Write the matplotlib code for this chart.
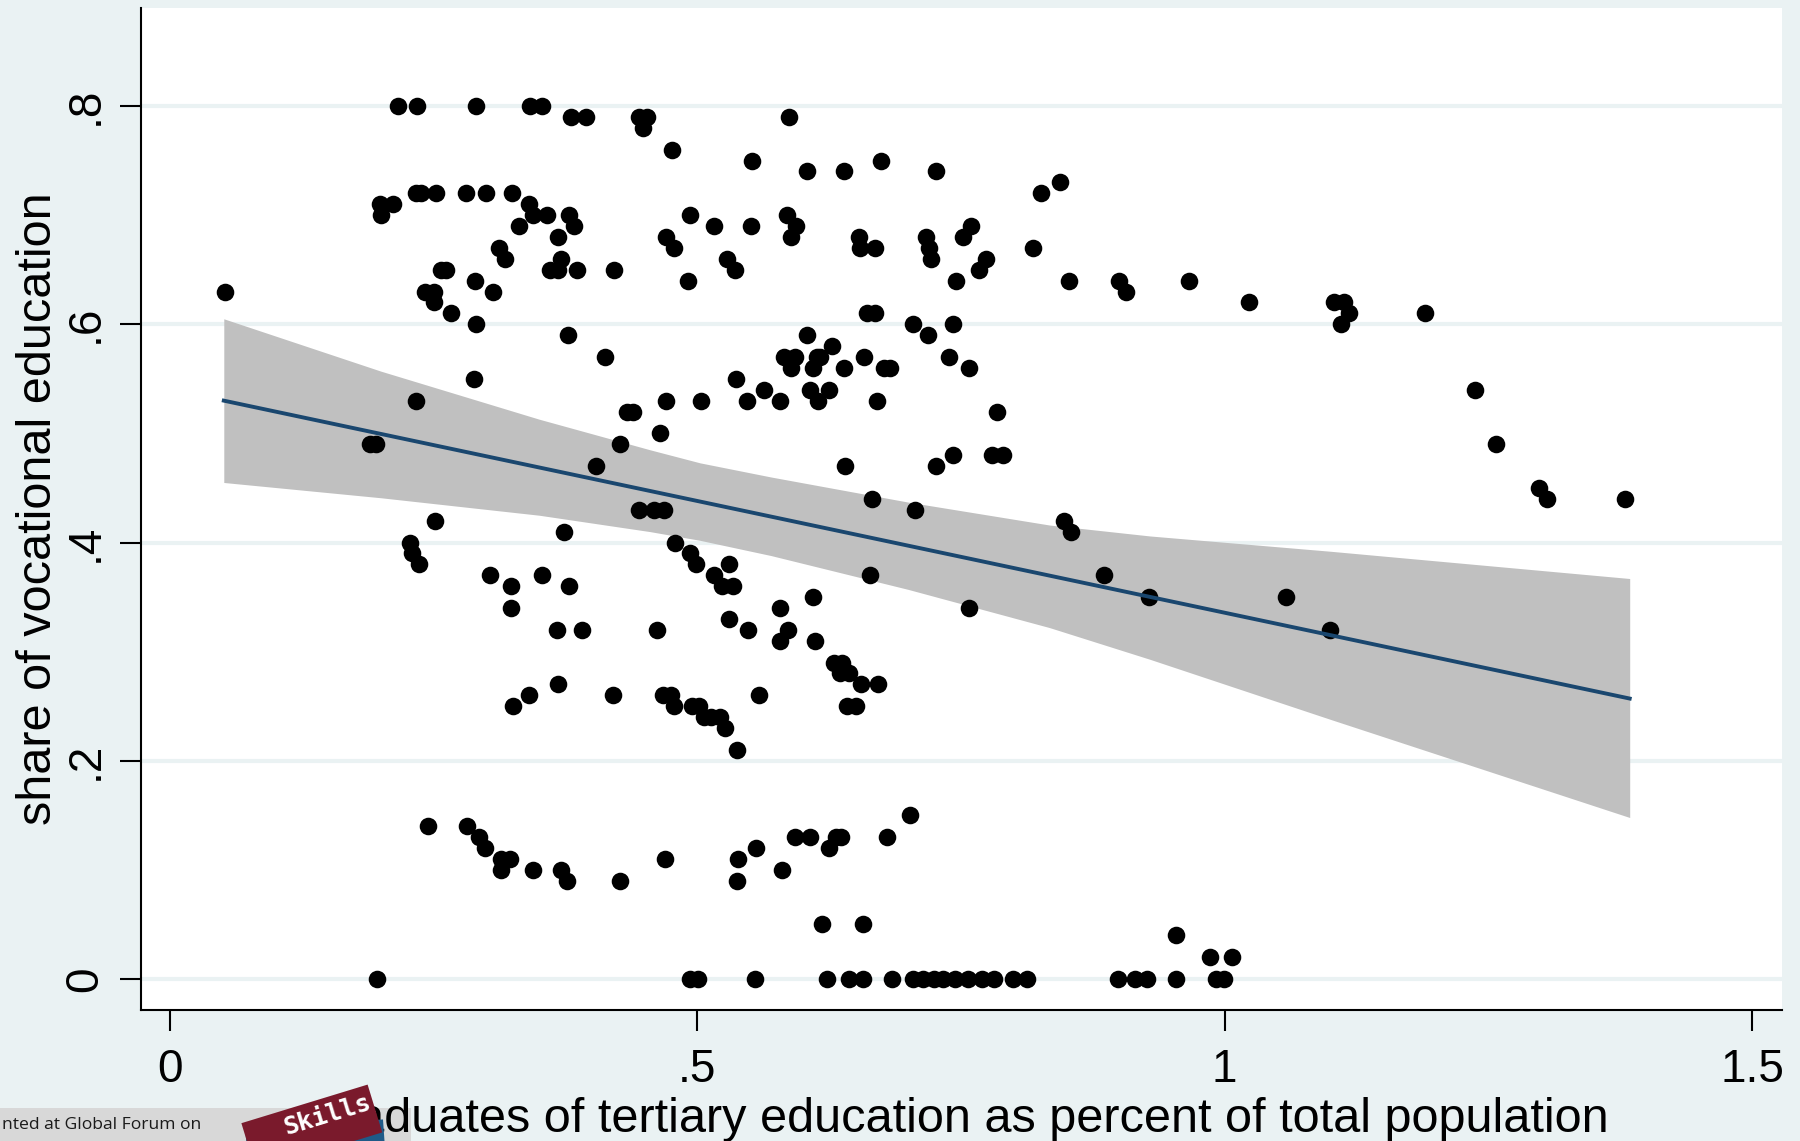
import numpy as np
import matplotlib
matplotlib.use("Agg")
import matplotlib.pyplot as plt
from matplotlib.patches import Rectangle
import matplotlib.transforms as mtransforms

plt.rcParams['font.family'] = ['Liberation Sans', 'DejaVu Sans']

# ---- data: (share of tertiary graduates, share of vocational education) ----
pts = {
    0.80: [0.216, 0.234, 0.290, 0.341, 0.353],
    0.79: [0.380, 0.394, 0.445, 0.452, 0.587],
    0.78: [0.448],
    0.76: [0.476],
    0.75: [0.552, 0.674],
    0.74: [0.604, 0.639, 0.726],
    0.73: [0.844],
    0.72: [0.233, 0.238, 0.252, 0.281, 0.300, 0.324, 0.826],
    0.71: [0.199, 0.211, 0.340],
    0.70: [0.200, 0.344, 0.357, 0.378, 0.493, 0.585],
    0.69: [0.383, 0.331, 0.516, 0.551, 0.594, 0.759],
    0.68: [0.368, 0.470, 0.589, 0.653, 0.717, 0.752],
    0.67: [0.478, 0.312, 0.654, 0.668, 0.720, 0.818],
    0.66: [0.318, 0.371, 0.528, 0.722, 0.774],
    0.65: [0.257, 0.262, 0.360, 0.368, 0.386, 0.421, 0.536, 0.767],
    0.64: [0.491, 0.289, 0.745, 0.852, 0.900, 0.966],
    0.63: [0.306, 0.242, 0.250, 0.052, 0.906],
    0.62: [0.250, 1.023, 1.104, 1.113],
    0.61: [0.266, 0.661, 0.668, 1.118, 1.190],
    0.60: [0.290, 0.704, 0.742, 1.110],
    0.59: [0.377, 0.604, 0.719],
    0.58: [0.628],
    0.57: [0.412, 0.582, 0.593, 0.613, 0.616, 0.658, 0.739],
    0.56: [0.589, 0.610, 0.639, 0.677, 0.683, 0.758],
    0.55: [0.288, 0.537],
    0.54: [0.563, 0.607, 0.625, 1.237],
    0.53: [0.233, 0.470, 0.503, 0.547, 0.578, 0.614, 0.670],
    0.52: [0.433, 0.439, 0.784],
    0.50: [0.465],
    0.49: [0.427, 0.190, 0.195, 1.257],
    0.48: [0.742, 0.779, 0.790],
    0.47: [0.404, 0.640, 0.726],
    0.45: [1.298],
    0.44: [1.306, 1.380, 0.666],
    0.43: [0.445, 0.459, 0.468, 0.706],
    0.42: [0.251, 0.848],
    0.41: [0.374, 0.854],
    0.40: [0.228, 0.479],
    0.39: [0.229, 0.493],
    0.38: [0.236, 0.499, 0.530],
    0.37: [0.303, 0.353, 0.516, 0.664, 0.886],
    0.36: [0.323, 0.378, 0.523, 0.534],
    0.35: [0.610, 0.928, 1.058],
    0.34: [0.323, 0.578, 0.758],
    0.33: [0.530],
    0.32: [0.367, 0.391, 0.462, 0.548, 0.586, 1.100],
    0.31: [0.578, 0.612],
    0.29: [0.630, 0.637],
    0.28: [0.635, 0.644],
    0.27: [0.368, 0.655, 0.671],
    0.26: [0.340, 0.420, 0.467, 0.475, 0.558],
    0.25: [0.325, 0.478, 0.495, 0.502, 0.642, 0.650],
    0.24: [0.506, 0.513, 0.521],
    0.23: [0.526],
    0.21: [0.538],
    0.15: [0.702],
    0.14: [0.245, 0.282],
    0.13: [0.293, 0.593, 0.607, 0.631, 0.636, 0.680],
    0.12: [0.299, 0.625, 0.556],
    0.11: [0.314, 0.322, 0.469, 0.539],
    0.10: [0.314, 0.344, 0.371, 0.580],
    0.09: [0.376, 0.427, 0.538],
    0.05: [0.618, 0.657],
    0.04: [0.954],
    0.02: [0.986, 1.007],
    0.00: [0.196, 0.493, 0.501, 0.555, 0.623, 0.644, 0.657, 0.685, 0.704,
           0.714, 0.724, 0.733, 0.744, 0.757, 0.770, 0.781, 0.799, 0.813,
           0.899, 0.915, 0.926, 0.954, 0.992, 0.999],
}
tertiary = np.array([x for yv, xs in pts.items() for x in xs])
vocational = np.array([yv for yv, xs in pts.items() for x in xs])

# fitted line and 95% confidence band
fit_x = [0.051, 1.384]
fit_y = [0.530, 0.257]
ci_x = [0.051, 0.20, 0.35, 0.455, 0.5025, 0.57, 0.70, 0.834, 0.929, 1.10, 1.384]
ci_hi = [0.605, 0.557, 0.513, 0.485, 0.473, 0.460, 0.437, 0.416, 0.406, 0.392, 0.367]
ci_lo = [0.455, 0.441, 0.425, 0.410, 0.402, 0.388, 0.357, 0.322, 0.293, 0.238, 0.148]

xticks = [0, 0.5, 1, 1.5]
xticklabels = ['0', '.5', '1', '1.5']
yticks = [0, 0.2, 0.4, 0.6, 0.8]
yticklabels = ['0', '.2', '.4', '.6', '.8']

# ---- figure ----
W, H = 1800, 1141
bg = '#EAF2F3'
fig = plt.figure(figsize=(W / 100, H / 100), dpi=100, facecolor=bg)
L, R, T, B = 141, 1782, 8, 1010
ax = fig.add_axes([L / W, 1 - B / H, (R - L) / W, (B - T) / H])
ax.set_facecolor('white')

ax.fill_between(ci_x, ci_lo, ci_hi, color='#C0C0C0', lw=0, zorder=2)
ax.scatter(tertiary, vocational, s=160, color='black', lw=0, zorder=3)
ax.plot(fit_x, fit_y, color='#1A476F', lw=2.8, zorder=4)

ax.set_xlim(-0.0275, 1.5284)
ax.set_ylim(-0.0284, 0.8898)
ax.set_xticks(xticks)
ax.set_xticklabels(xticklabels)
ax.set_yticks(yticks)
ax.set_yticklabels(yticklabels, rotation=90, va='center')
ax.yaxis.grid(True, color=bg, lw=3, zorder=1)
ax.set_axisbelow(True)

for side in ['top', 'right']:
    ax.spines[side].set_visible(False)
for side in ['left', 'bottom']:
    ax.spines[side].set_linewidth(1.5)
    ax.spines[side].set_color('black')
ax.tick_params(axis='both', length=15, width=1.5, labelsize=33, colors='black')
ax.tick_params(axis='x', pad=12)
ax.tick_params(axis='y', pad=9)

ax.set_xlabel('graduates of tertiary education as percent of total population', fontsize=35)
ax.xaxis.label.set_va('baseline')
ax.xaxis.set_label_coords(0.5, (B - 1132) / (B - T))
ax.set_ylabel('share of vocational education', fontsize=35)
ax.yaxis.label.set_va('baseline')
ax.yaxis.set_label_coords((51 - L) / (R - L), 0.5)

# ---- watermark / logo overlay at bottom left (pixel coords, origin bottom-left) ----
pix = mtransforms.IdentityTransform()
fig.patches.append(Rectangle((0, 0), 411, H - 1108, transform=pix,
                             facecolor='#D8D8D8', edgecolor='none', zorder=-1))
fig.text(2, H - 1125, 'nted at Global Forum on', fontsize=12.6, family='Open Sans',
         va='center', ha='left', color='#1A1A1A', zorder=11, transform=pix)
rot_b = mtransforms.Affine2D().rotate_deg_around(247, -12, 4)
fig.patches.append(Rectangle((247, -12), 138, 24, facecolor='#1F5A88', edgecolor='none',
                             transform=rot_b + pix, zorder=11))
rot_m = mtransforms.Affine2D().rotate_deg_around(256, -30, 17)
fig.patches.append(Rectangle((256, -30), 132, 50, facecolor='#7A1A2C', edgecolor='none',
                             transform=rot_m + pix, zorder=12))
fig.text(327, H - 1115, 'Skills', fontsize=18, family='DejaVu Sans Mono', weight='bold',
         color='white', rotation=17, ha='center', va='center', zorder=13, transform=pix)

fig.savefig('out.png', dpi=100, facecolor=bg)
